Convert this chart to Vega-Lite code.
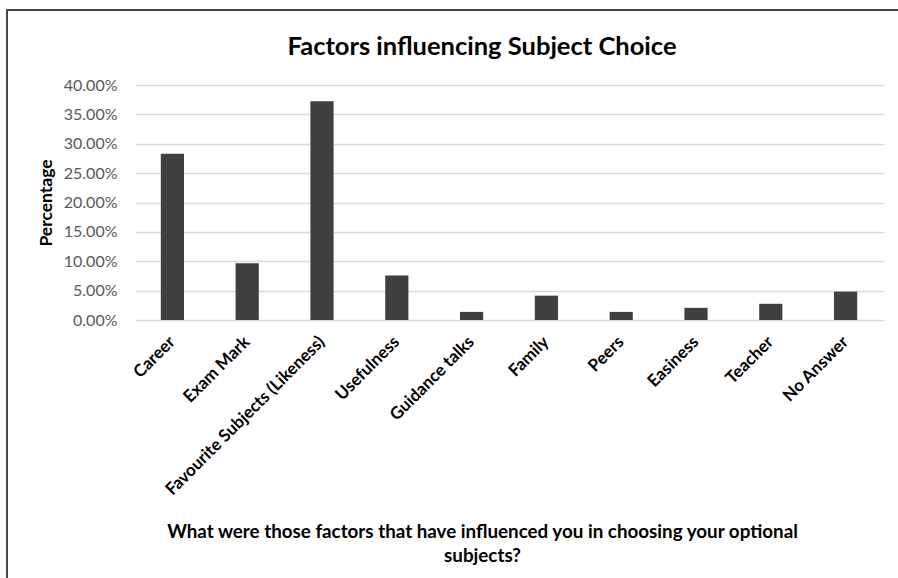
{
  "$schema": "https://vega.github.io/schema/vega-lite/v6.json",
  "width": 748,
  "height": 235,
  "autosize": {"type": "none"},
  "padding": {"left": 135, "top": 85, "right": 15, "bottom": 258},
  "background": "#ffffff",
  "title": {
    "text": "Factors influencing Subject Choice",
    "font": "Lato",
    "fontSize": 25.5,
    "fontWeight": "bold",
    "color": "#000000",
    "anchor": "middle",
    "frame": "group",
    "dx": -27,
    "dy": 51,
    "offset": 0
  },
  "data": {
    "values": [
      {"factor": "Career", "share": 0.2828},
      {"factor": "Exam Mark", "share": 0.0966},
      {"factor": "Favourite Subjects (Likeness)", "share": 0.3724},
      {"factor": "Usefulness", "share": 0.0759},
      {"factor": "Guidance talks", "share": 0.0138},
      {"factor": "Family", "share": 0.0414},
      {"factor": "Peers", "share": 0.0138},
      {"factor": "Easiness", "share": 0.0207},
      {"factor": "Teacher", "share": 0.0276},
      {"factor": "No Answer", "share": 0.0483}
    ]
  },
  "layer": [
    {
      "data": {"values": [{}]},
      "mark": {
        "type": "rect",
        "x": -128,
        "x2": 790,
        "y": -75,
        "y2": 520,
        "fill": null,
        "stroke": "#464646",
        "strokeWidth": 2,
        "clip": false
      },
      "encoding": {}
    },
    {
      "mark": {"type": "bar", "color": "#404040"},
      "encoding": {
        "x": {
          "field": "factor",
          "type": "nominal",
          "sort": null,
          "scale": {"paddingInner": 0.69, "paddingOuter": 0.345},
          "axis": {
            "title": ["What were those factors that have influenced you in choosing your optional", "subjects?"],
            "titleFont": "Lato",
            "titleFontSize": 18.8,
            "titleFontWeight": "bold",
            "titleColor": "#000000",
            "titleX": 347,
            "titleY": 202,
            "titleAlign": "center",
            "titleBaseline": "top",
            "titleLineHeight": 24,
            "labelAngle": -45,
            "labelFont": "Lato",
            "labelFontSize": 17,
            "labelFontWeight": "bold",
            "labelColor": "#000000",
            "labelBaseline": "middle",
            "labelAlign": "right",
            "labelPadding": 19,
            "labelLimit": 400,
            "ticks": false,
            "domain": false,
            "grid": false
          }
        },
        "y": {
          "field": "share",
          "type": "quantitative",
          "scale": {"domain": [0, 0.4], "nice": false},
          "axis": {
            "title": "Percentage",
            "titleFont": "Lato",
            "titleFontSize": 17.5,
            "titleFontWeight": "bold",
            "titleColor": "#000000",
            "titleX": -89,
            "titleY": 117.5,
            "titleAngle": -90,
            "titleAlign": "center",
            "titleBaseline": "middle",
            "values": [0, 0.05, 0.1, 0.15, 0.2, 0.25, 0.3, 0.35, 0.4],
            "format": ".2%",
            "labelFont": "Lato",
            "labelFontSize": 16,
            "labelColor": "#595959",
            "labelPadding": 18,
            "ticks": false,
            "domain": false,
            "grid": true,
            "gridColor": "#d9d9d9",
            "gridWidth": 1.5
          }
        }
      }
    }
  ],
  "config": {
    "view": {"stroke": null}
  }
}
